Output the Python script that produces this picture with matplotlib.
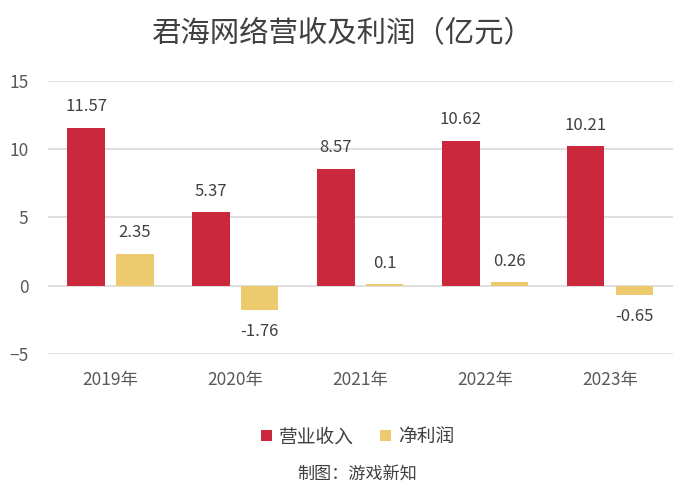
import numpy as np
import matplotlib.pyplot as plt

plt.rcParams['font.family'] = ['Noto Sans CJK SC', 'DejaVu Sans']

years = ["2019年", "2020年", "2021年", "2022年", "2023年"]
revenue = [11.57, 5.37, 8.57, 10.62, 10.21]
profit = [2.35, -1.76, 0.1, 0.26, -0.65]
rev_labels = ["11.57", "5.37", "8.57", "10.62", "10.21"]
prof_labels = ["2.35", "-1.76", "0.1", "0.26", "-0.65"]

red = "#C9283D"
yellow = "#EDCA6E"
txt = "#404040"

fig = plt.figure(figsize=(6.88, 4.92), dpi=100)
ax = fig.add_axes([0.0698, 0.2805, 0.9077, 0.5549])

x = np.arange(len(years))
w = 0.3
off = 0.195
b1 = ax.bar(x - off, revenue, w, color=red, label="营业收入", zorder=3)
b2 = ax.bar(x + off, profit, w, color=yellow, label="净利润", zorder=3)

for bars, vals, labs in [(b1, revenue, rev_labels), (b2, profit, prof_labels)]:
    for r, v, s in zip(bars, vals, labs):
        dy = 15 if v >= 0 else -16
        ax.annotate(s, (r.get_x() + r.get_width() / 2, v), xytext=(0, dy),
                    textcoords="offset points", ha="center", va="center",
                    fontsize=12, color=txt)

ax.set_xlim(-0.5, len(years) - 0.5)
ax.set_ylim(-5, 15)
ax.set_yticks([-5, 0, 5, 10, 15])
ax.set_xticks(x)
ax.set_xticklabels(years)
ax.tick_params(axis="both", length=0, labelsize=12.5, labelcolor="#595959")
ax.tick_params(axis="y", pad=14)
ax.tick_params(axis="x", pad=12)
ax.grid(axis="y", color="#D9D9D9", linewidth=1.2, zorder=0)
for sp in ax.spines.values():
    sp.set_visible(False)

fig.text(0.4985, 0.932, "君海网络营收及利润（亿元）", ha="center", va="center",
         fontsize=21.2, color=txt)
fig.legend(handles=[b1, b2], loc="center", bbox_to_anchor=(0.52, 0.112),
           ncol=2, frameon=False, fontsize=13.5, handlelength=0.55,
           handleheight=0.55, handletextpad=0.4, columnspacing=1.4,
           labelcolor=txt)
fig.text(0.519, 0.036, "制图：游戏新知", ha="center", va="center",
         fontsize=12.3, color=txt)

fig.savefig("out.png", dpi=100)
